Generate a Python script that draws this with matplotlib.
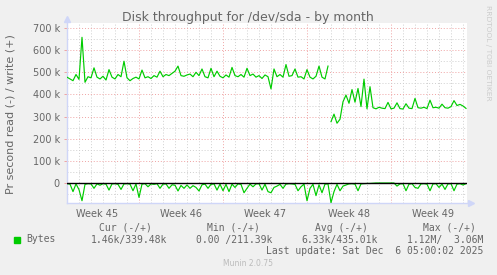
import matplotlib
matplotlib.use("Agg")
import matplotlib.pyplot as plt
import numpy as np

# D A T A ----------------------------------------------------------
# throughput in k bytes/s, one sample every 6 hours, x in days
step_days = 0.25

write1_k = [478, 470, 462, 490, 468, 658, 455, 480, 475, 520,
            478, 470, 482, 465, 512, 478, 470, 490, 480, 550,
            475, 462, 472, 478, 470, 510, 475, 480, 472, 485,
            478, 505, 480, 490, 485, 495, 505, 528, 485, 482,
            488, 492, 480, 500, 485, 515, 480, 475, 518, 480,
            505, 482, 475, 488, 478, 522, 485, 480, 490, 478,
            518, 485, 492, 478, 485, 472, 488, 480, 425, 515,
            480, 490, 478, 535, 482, 485, 515, 478, 480, 470,
            512, 478, 470, 482, 528, 478, 470, 528]

write2_start = 22.0
write2_k = [277, 311, 270, 288, 367, 397, 360, 422, 365, 427,
            345, 469, 335, 435, 340, 335, 342, 338, 336, 364,
            335, 338, 362, 336, 334, 358, 338, 336, 382, 340,
            338, 342, 336, 374, 340, 342, 338, 356, 340, 338,
            345, 372, 350, 355, 348, 337]

read_k = [3, 5, 39, 4, 30, 80, 6, 3, 4, 24,
          4, 10, 3, 5, 32, 4, 3, 6, 29, 4,
          3, 5, 35, 4, 65, 5, 3, 17, 4, 6,
          3, 24, 5, 4, 24, 8, 10, 36, 11, 24,
          9, 24, 12, 20, 36, 8, 5, 24, 6, 4,
          32, 5, 35, 6, 39, 5, 20, 4, 6, 44,
          24, 5, 17, 4, 3, 32, 5, 39, 44, 20,
          14, 6, 24, 5, 3, 4, 6, 35, 17, 5,
          80, 24, 6, 57, 8, 44, 5, 4, 89, 39,
          6, 35, 14, 9, 4, 3, 5, 35, 4, 3,
          2, 2, 1, 0, 0, 0, 0, 0, 0, 0,
          14, 4, 3, 35, 5, 3, 20, 24, 4, 3,
          5, 35, 4, 3, 20, 5, 29, 4, 3, 35,
          5, 3, 9, 3]

week_labels = ["Week 45", "Week 46", "Week 47", "Week 48", "Week 49"]
week_centers = [2.5, 9.5, 16.5, 23.5, 30.5]
week_starts = [6, 13, 20, 27]
y_ticks_k = [0, 100, 200, 300, 400, 500, 600, 700]

legend_headers = ["Cur (-/+)", "Min (-/+)", "Avg (-/+)", "Max (-/+)"]
legend_values = ["1.46k/339.48k", "0.00 /211.39k", "6.33k/435.01k", "1.12M/  3.06M"]

# S T Y L E --------------------------------------------------------
W, H = 497, 275
BACK = '#F0F0F0'
FONT = '#666666'
AXIS = '#CFD6F8'
GRID = '#CFCFCF'
MGRID = '#EFA3A3'
GREEN = '#00CC00'


def px(x, y):
    return x / W, 1 - y / H


fig = plt.figure(figsize=(W / 100, H / 100), dpi=100, facecolor=BACK)
l, b = px(67, 203)
ax = fig.add_axes([l, b, 400 / W, 180 / H])
ax.set_facecolor('white')

ax.set_xlim(0, 400 / 12)
ax.set_ylim(-90.3, 722.6)

# grid
dot = (0, (1, 2))
for d in range(1, 34):
    c = MGRID if d in week_starts else GRID
    ax.axvline(d, color=c, lw=0.7, ls=dot, zorder=1)
for v in range(-50, 750, 50):
    if v == 0:
        continue
    c = MGRID if v % 100 == 0 else GRID
    ax.axhline(v, color=c, lw=0.7, ls=dot, zorder=1)

# series
days1 = step_days * np.arange(len(write1_k))
days2 = write2_start + step_days * np.arange(len(write2_k))
days_r = step_days * np.arange(len(read_k))
ax.plot(days1, write1_k, color=GREEN, lw=0.85, zorder=3)
ax.plot(days2, write2_k, color=GREEN, lw=0.85, zorder=3)
ax.plot(days_r, -np.array(read_k), color=GREEN, lw=0.85, zorder=3)
ax.axhline(0, color='black', lw=1, zorder=4)

# axes
for s in ['top', 'right']:
    ax.spines[s].set_visible(False)
for s in ['left', 'bottom']:
    ax.spines[s].set_color(AXIS)
    ax.spines[s].set_linewidth(1)
ax.plot([0], [1.02], marker='^', color=AXIS, ms=4, transform=ax.transAxes, clip_on=False)
ax.plot([1.01], [0], marker='>', color=AXIS, ms=4, transform=ax.transAxes, clip_on=False)

ax.set_yticks(y_ticks_k)
ax.set_yticklabels([f"{v} k" if v else "0" for v in y_ticks_k])
ax.set_xticks(week_centers)
ax.set_xticklabels(week_labels)
ax.tick_params(labelsize=7, labelcolor=FONT)
ax.tick_params(axis='x', length=0, pad=4)
ax.tick_params(axis='y', length=2.2, width=0.7, color=MGRID, pad=3)

# texts
fig.text(*px(248, 18), "Disk throughput for /dev/sda - by month",
         ha='center', va='center', fontsize=9, color=FONT)
fig.text(*px(11, 114), "Pr second read (-) / write (+)", rotation=90,
         ha='center', va='center', fontsize=8, color=FONT)
fig.text(*px(488, 5), "RRDTOOL / TOBI OETIKER", rotation=270,
         ha='center', va='top', fontsize=5.4, color='#CCCCCC')

mono = 'DejaVu Sans Mono'
for txt, cx in zip(legend_headers, [125, 233, 341.5, 449.7]):
    fig.text(*px(cx, 228), txt, ha='center', va='center', fontsize=7,
             color=FONT, family=mono)
fig.patches.append(plt.Rectangle(px(14, 243), 6 / W, 6 / H, color=GREEN,
                                 transform=fig.transFigure, figure=fig))
fig.text(*px(26.5, 239.5), "Bytes", ha='left', va='center', fontsize=7,
         color=FONT, family=mono)
for txt, rx in zip(legend_values, [167, 272, 378, 483]):
    fig.text(*px(rx, 239.5), txt, ha='right', va='center', fontsize=7,
             color=FONT, family=mono)
fig.text(*px(483, 251), "Last update: Sat Dec  6 05:00:02 2025", ha='right',
         va='center', fontsize=7, color=FONT, family=mono)
fig.text(*px(248, 264), "Munin 2.0.75", ha='center', va='center',
         fontsize=5.5, color='#BBBBBB')

fig.savefig("out.png", dpi=100, facecolor=BACK)
